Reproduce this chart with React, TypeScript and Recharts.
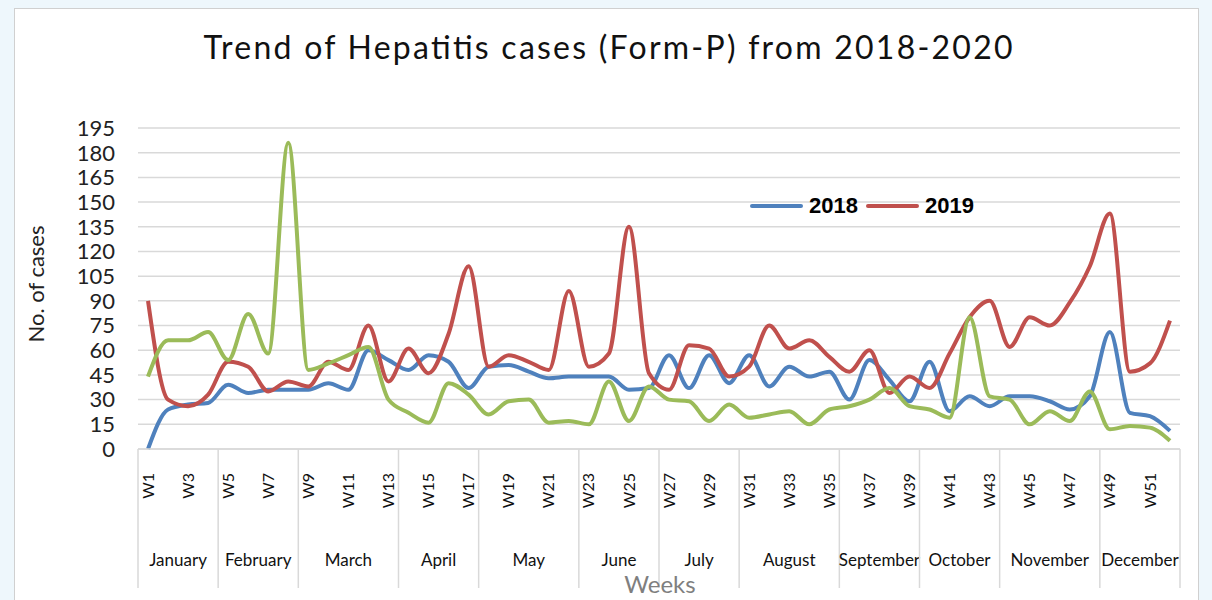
import { LineChart, Line, XAxis, YAxis, CartesianGrid, Legend } from 'recharts'

// weekly Form-P hepatitis counts
const WEEKS = [
  'W1', 'W2', 'W3', 'W4', 'W5', 'W6', 'W7', 'W8', 'W9', 'W10', 'W11', 'W12', 'W13',
  'W14', 'W15', 'W16', 'W17', 'W18', 'W19', 'W20', 'W21', 'W22', 'W23', 'W24', 'W25', 'W26',
  'W27', 'W28', 'W29', 'W30', 'W31', 'W32', 'W33', 'W34', 'W35', 'W36', 'W37', 'W38', 'W39',
  'W40', 'W41', 'W42', 'W43', 'W44', 'W45', 'W46', 'W47', 'W48', 'W49', 'W50', 'W51', 'W52',
]
const MONTHS = ['January', 'February', 'March', 'April', 'May', 'June', 'July', 'August', 'September', 'October', 'November', 'December']
const MONTH_WEEKS = [4, 4, 5, 4, 5, 4, 4, 5, 4, 4, 5, 4]

const CASES_2018 = [
  0, 24, 27, 28, 39, 34, 36, 36, 36, 40, 36, 60, 54,
  48, 57, 53, 37, 50, 51, 47, 43, 44, 44, 44, 36, 37,
  57, 37, 57, 40, 57, 38, 50, 44, 47, 30, 54, 42, 29,
  53, 23, 32, 26, 32, 32, 29, 24, 32, 71, 22, 20, 11,
]
const CASES_2019 = [
  90, 30, 26, 33, 53, 50, 35, 41, 38, 53, 48, 75, 41,
  61, 46, 70, 111, 50, 57, 53, 48, 96, 50, 58, 135, 46,
  36, 63, 61, 44, 50, 75, 61, 66, 56, 47, 60, 34, 44,
  37, 58, 80, 90, 62, 80, 75, 89, 111, 143, 47, 52, 78,
]
const CASES_2020 = [
  44, 66, 66, 71, 54, 82, 58, 186, 48, 52, 57, 62, 30,
  22, 16, 40, 33, 21, 29, 30, 16, 17, 15, 41, 17, 38,
  30, 29, 17, 27, 19, 21, 23, 15, 24, 26, 30, 37, 26,
  24, 19, 80, 32, 30, 15, 23, 17, 35, 12, 14, 13, 5,
]
const Y_TICKS = [0, 15, 30, 45, 60, 75, 90, 105, 120, 135, 150, 165, 180, 195]

const W = 1212
const H = 600
const MARGIN = { top: 128, right: 32, bottom: 0, left: 0 }
const Y_AXIS_W = 138
const X_AXIS_H = 151
const BAND = (W - MARGIN.left - MARGIN.right - Y_AXIS_W) / WEEKS.length
const GRID = '#d9d9d9'
const FONT = 'Lato, "Open Sans", sans-serif'

// index of first week -> month index
const monthAt: Record<number, number> = {}
let acc = 0
MONTH_WEEKS.forEach((n, i) => {
  monthAt[acc] = i
  acc += n
})

const data = WEEKS.map((week, i) => ({
  week,
  y2018: CASES_2018[i],
  y2019: CASES_2019[i],
  y2020: CASES_2020[i],
}))

function WeekTick(props: any) {
  const { x, y, payload } = props
  const i = WEEKS.indexOf(payload.value)
  const m = monthAt[i]
  const left = x - BAND / 2
  const ly = y + 24
  return (
    <g fontFamily={FONT}>
      {i % 2 === 0 && (
        <text x={x} y={ly} dy="0.35em" textAnchor="end" transform={`rotate(-90, ${x}, ${ly})`} fontSize={16} fill="#111">
          {payload.value}
        </text>
      )}
      {m !== undefined && (
        <>
          <line x1={left} x2={left} y1={y} y2={y + 139} stroke={GRID} strokeWidth={1.5} />
          <text x={left + (MONTH_WEEKS[m] * BAND) / 2} y={y + 113} textAnchor="middle" dominantBaseline="middle" fontSize={17} fill="#111">
            {MONTHS[m]}
          </text>
        </>
      )}
      {i === WEEKS.length - 1 && (
        <line x1={x + BAND / 2} x2={x + BAND / 2} y1={y} y2={y + 139} stroke={GRID} strokeWidth={1.5} />
      )}
    </g>
  )
}

function LegendRow(props: any) {
  // 2020 is drawn but not listed, as in the original
  const items = (props.payload || []).filter((e: any) => e.type !== 'none' && e.value !== '2020')
  return (
    <div style={{ display: 'flex', alignItems: 'center', whiteSpace: 'nowrap' }}>
      {items.map((e: any) => (
        <span key={e.value} style={{ display: 'flex', alignItems: 'center', marginRight: 8 }}>
          <span style={{ width: 53, height: 4, borderRadius: 2, background: e.color, marginRight: 6 }} />
          <span style={{ font: 'bold 22px "Liberation Sans", Arial, sans-serif', color: '#000' }}>{e.value}</span>
        </span>
      ))}
    </div>
  )
}

export default function App() {
  return (
    <div style={{ position: 'absolute', left: 0, top: 0, width: W, height: H, background: '#eef7fc', overflow: 'hidden' }}>
      <div style={{ position: 'absolute', left: 14, top: 8, width: 1183, height: 620, background: '#fff', border: '1px solid #d0d0d0' }} />
      <div style={{ position: 'absolute', left: 0, top: 0 }}>
        <LineChart width={W} height={H} data={data} margin={MARGIN}>
          <CartesianGrid vertical={false} stroke={GRID} strokeWidth={1.5} />
          <XAxis
            dataKey="week"
            interval={0}
            height={X_AXIS_H}
            padding={{ left: BAND / 2, right: BAND / 2 }}
            tickSize={0}
            tickMargin={0}
            tickLine={false}
            axisLine={{ stroke: GRID, strokeWidth: 1.5 }}
            tick={<WeekTick />}
          />
          <YAxis
            width={Y_AXIS_W}
            domain={[0, 195]}
            ticks={Y_TICKS}
            interval={0}
            tickSize={0}
            tickMargin={23}
            tickLine={false}
            axisLine={false}
            tick={{ fontSize: 22, fill: '#222', fontFamily: FONT }}
          />
          <Legend
            layout="vertical"
            align="center"
            verticalAlign="middle"
            content={<LegendRow />}
            wrapperStyle={{ left: 750, top: 193, width: 'auto', height: 'auto' }}
          />
          <Line type="monotone" dataKey="y2018" name="2018" stroke="#4f81bd" strokeWidth={4} dot={false} isAnimationActive={false} />
          <Line type="monotone" dataKey="y2019" name="2019" stroke="#c0504d" strokeWidth={4} dot={false} isAnimationActive={false} />
          <Line type="monotone" dataKey="y2020" name="2020" stroke="#9bbb59" strokeWidth={4} dot={false} legendType="none" isAnimationActive={false} />
        </LineChart>
      </div>
      <svg width={W} height={H} style={{ position: 'absolute', left: 0, top: 0, pointerEvents: 'none' }} fontFamily={FONT}>
        <text x={608} y={59} textAnchor="middle" fontSize={32} fill="#111" textLength={809} lengthAdjust="spacing">
          Trend of Hepatitis cases (Form-P) from 2018-2020
        </text>
        <text x={38} y={284} textAnchor="middle" dominantBaseline="middle" fontSize={22} fill="#222" transform="rotate(-90, 38, 284)">
          No. of cases
        </text>
        <text x={660} y={587} textAnchor="middle" dominantBaseline="middle" fontSize={24} fill="#7f7f7f">
          Weeks
        </text>
      </svg>
    </div>
  )
}
